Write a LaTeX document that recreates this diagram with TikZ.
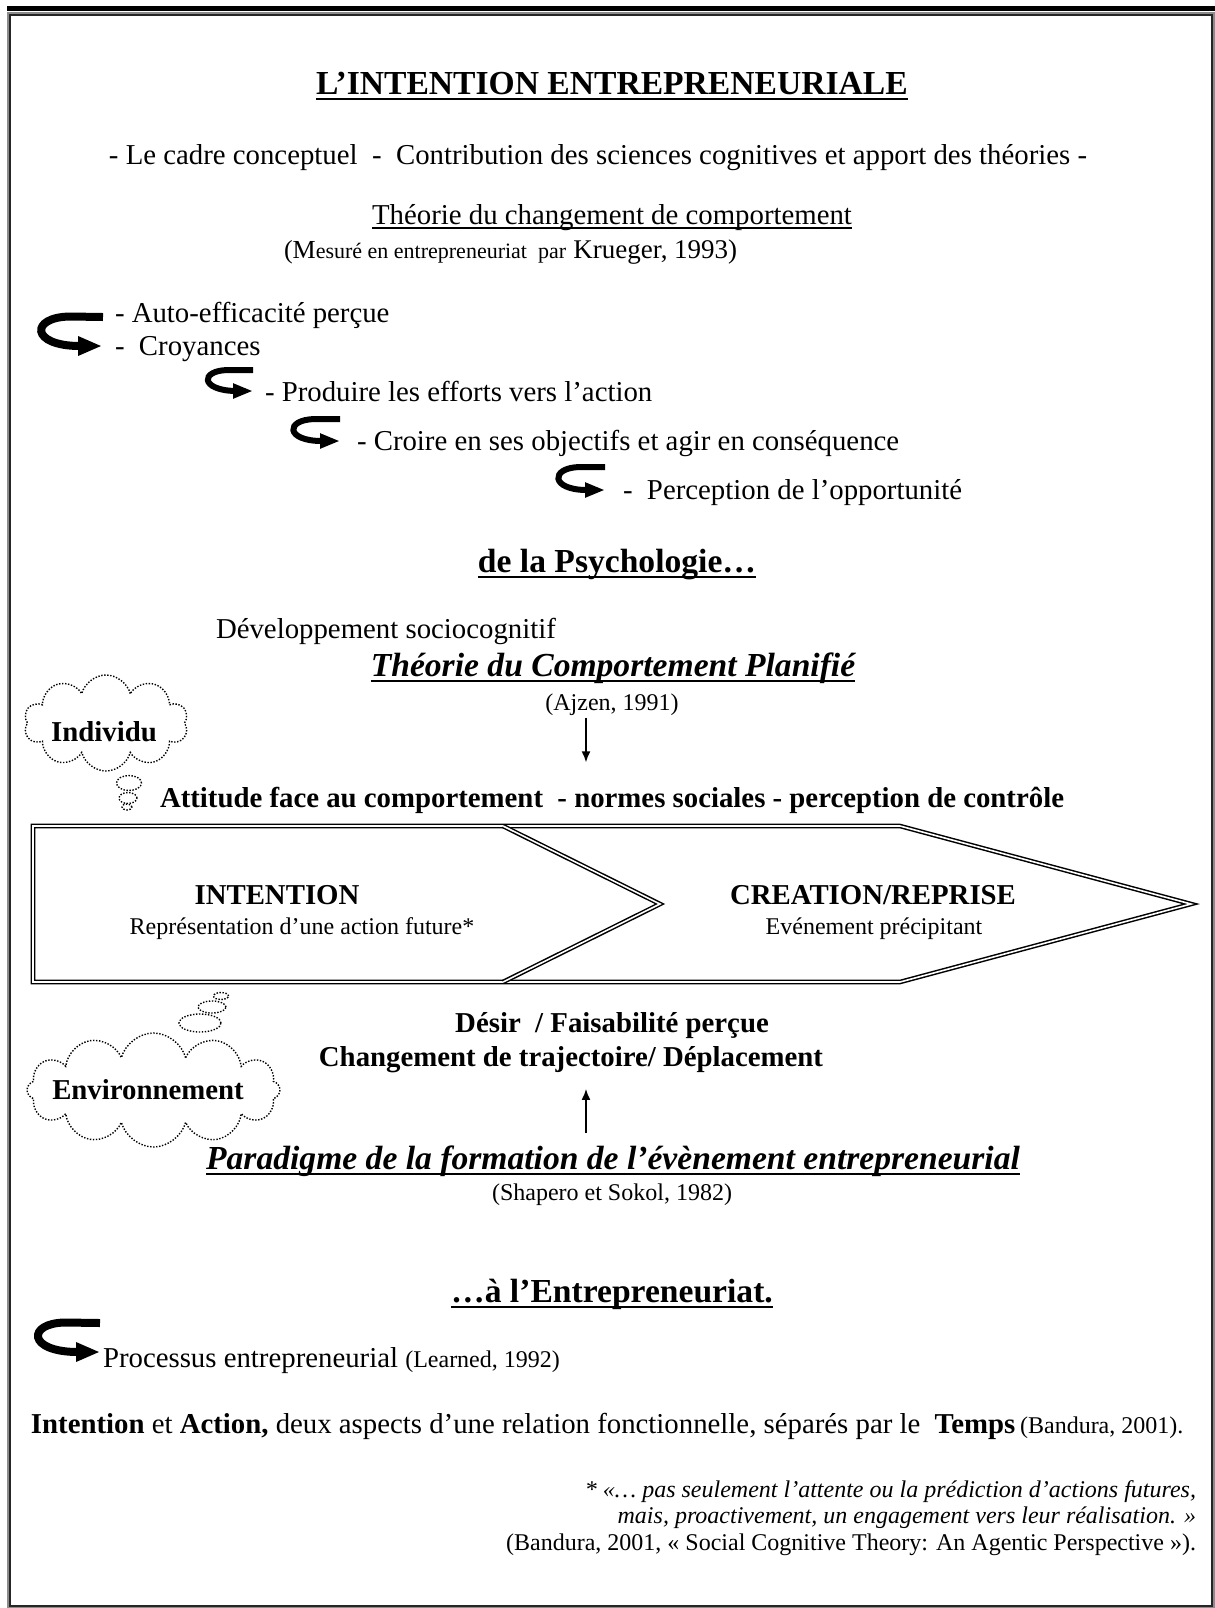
\documentclass[tikz,border=0pt]{standalone}
\usepackage{fontspec}
\setmainfont{Liberation Serif}
\usetikzlibrary{arrows.meta,shapes.symbols,shapes.geometric}
\newcommand\FontHead{\fontsize{16.8pt}{20pt}\selectfont}
\newcommand\FontBody{\fontsize{14.4pt}{17pt}\selectfont}
\newcommand\FontSmall{\fontsize{12pt}{14pt}\selectfont}
\newcommand\myul[1]{\setbox0\hbox{#1}\rlap{\rule[-0.16em]{\wd0}{0.065em}}\box0}
\begin{document}
\begin{tikzpicture}[x=0.5pt,y=-0.5pt,
  txt/.style={inner sep=0pt, outer sep=0pt, font=\FontBody},
  small/.style={txt, font=\FontSmall},
  headb/.style={txt, font=\FontHead\bfseries},
  headbi/.style={txt, font=\FontHead\bfseries\itshape},
  bodyb/.style={txt, font=\FontBody\bfseries},
  hookbig/.style={line width=4pt, line cap=butt, -{Triangle[length=12pt,width=9pt]}},
  hooksmall/.style={line width=3pt, line cap=butt, -{Triangle[length=10pt,width=7pt]}},
  cloudsty/.style={cloud, draw, line width=0.7pt, dash pattern=on 0.7pt off 0.8pt, inner sep=0pt},
  bubble/.style={ellipse, draw, line width=0.7pt, dash pattern=on 0.7pt off 0.8pt, inner sep=0pt},
  chev/.style={draw, double, line width=0.75pt, double distance=0.8pt, line join=miter},
  conn/.style={line width=0.75pt, -{Latex[length=5.5pt,width=4.5pt]}}
]
\useasboundingbox (0,0) rectangle (1215,1608);
% page frame
\fill[black] (7,6) rectangle (1215,11);
\draw[black!45, line width=0.6pt] (7,12.4) -- (1215,12.4);
\draw[black!45, line width=0.7pt] (8,13.8) rectangle (1214,1607.2);
\draw[black!85, line width=1.1pt] (10.2,15.2) rectangle (1212,1605.6);

% hooks
\coordinate (h1s) at (103,317);
\coordinate (h1e) at (102,346);
\draw[hookbig] (h1s) -- (70,316.5) .. controls (30,317) and (30,346) .. (80,346) -- (h1e);
\coordinate (h2s) at (253,370);
\coordinate (h2e) at (253,391);
\draw[hooksmall] (h2s) -- (228,370) .. controls (200,370.5) and (200,390) .. (235,391) -- (h2e);
\coordinate (h3s) at (340,419);
\coordinate (h3e) at (340,441);
\draw[hooksmall] (h3s) -- (315,419) .. controls (285,419.5) and (285,441) .. (322,441) -- (h3e);
\coordinate (h4s) at (605,467);
\coordinate (h4e) at (605,490);
\draw[hooksmall] (h4s) -- (580,467) .. controls (550,467.5) and (550,490) .. (587,490) -- (h4e);
\coordinate (h5s) at (100,1323);
\coordinate (h5e) at (100,1352);
\draw[hookbig] (h5s) -- (65,1322.5) .. controls (27,1323) and (27,1352) .. (78,1352) -- (h5e);

% clouds
\node[cloudsty, cloud puffs=10, aspect=1.75, minimum width=82pt, minimum height=48pt] (cloudI) at (106,723) {};
\node[bubble, minimum width=12.5pt, minimum height=7.5pt] (bI1) at (129,783) {};
\node[bubble, minimum width=9pt, minimum height=5.5pt] (bI2) at (128,798) {};
\node[bubble, minimum width=5pt, minimum height=3pt] (bI3) at (127,807) {};
\node[cloudsty, cloud puffs=12, aspect=2.2, minimum width=126.5pt, minimum height=57pt] (cloudE) at (153.5,1090) {};
\node[bubble, minimum width=21pt, minimum height=9pt] (bE1) at (200,1023) {};
\node[bubble, minimum width=14pt, minimum height=6pt] (bE2) at (212,1007) {};
\node[bubble, minimum width=7.5pt, minimum height=3.5pt] (bE3) at (221,996) {};

% chevrons
\draw[chev] (33,826) -- (900,826) -- (1191,904) -- (900,982) -- (33,982) -- cycle;
\draw[chev] (503,826) -- (660,904) -- (503,982);

\coordinate (ax) at (586,0);
\begin{scope}[shift={(0,6)}]
% title block
\node[headb, anchor=mid] (title) at (612,84) {\myul{L’INTENTION ENTREPRENEURIALE}};
\node[txt, anchor=mid] (subtitle) at (598,154) {- Le cadre conceptuel\ \ -\ \ Contribution des sciences cognitives et apport des théories -};
\node[txt, anchor=mid] (theorie) at (612,214) {\myul{Théorie du changement de comportement}};
\node[txt, anchor=mid west] (krueger) at (284,248) {{\fontsize{13pt}{15pt}\selectfont (M}{\fontsize{11pt}{13pt}\selectfont esuré en entrepreneuriat\ \ par} {\fontsize{13.5pt}{15pt}\selectfont Krueger, 1993)}};

% list
\node[txt, anchor=mid west] (auto) at (115,312) {- Auto-efficacité perçue};
\node[txt, anchor=mid west] (croy) at (115,345) {-\ \ Croyances};
\node[txt, anchor=mid west] (produire) at (265,391) {- Produire les efforts vers l’action};
\node[txt, anchor=mid west] (croire) at (357,440) {- Croire en ses objectifs et agir en conséquence};
\node[txt, anchor=mid west] (percep) at (623,489) {-\ \ Perception de l’opportunité};

% psychology part
\node[headb, anchor=mid] (psycho) at (617,562) {\myul{de la Psychologie…}};
\node[txt, anchor=mid west] (devel) at (216,628) {Développement sociocognitif};
\node[headbi, anchor=mid] (tcp) at (613,666) {\myul{Théorie du Comportement Planifié}};
\node[small, anchor=mid] (ajzen) at (612,700) {(Ajzen, 1991)};
\node[bodyb, anchor=mid west] (attitude) at (160,797) {Attitude face au comportement\ \ - normes sociales - perception de contrôle};
\node[bodyb, anchor=mid] (individu) at (104,731) {Individu};

\node[bodyb, anchor=mid] (inttitle) at (277,894) {INTENTION};
\node[small, anchor=mid] (intsub) at (302,924) {Représentation d’une action future*};
\node[bodyb, anchor=mid] (crtitle) at (873,894) {CREATION/REPRISE};
\node[small, anchor=mid] (crsub) at (874,924) {Evénement précipitant};

\node[bodyb, anchor=mid] (environ) at (148,1089) {Environnement};
\node[bodyb, anchor=mid] (desir) at (612,1022) {Désir\ \ / Faisabilité perçue};
\node[bodyb, anchor=mid] (chang) at (571,1056) {Changement de trajectoire/ Déplacement};
\node[headbi, anchor=mid] (parad) at (613,1159) {\myul{Paradigme de la formation de l’évènement entrepreneurial}};
\node[small, anchor=mid] (shapero) at (612,1190) {(Shapero et Sokol, 1982)};

% entrepreneurship part
\node[headb, anchor=mid] (entre) at (612,1292) {\myul{…à l’Entrepreneuriat.}};
\node[txt, anchor=mid west] (processus) at (103,1357) {Processus entrepreneurial {\FontSmall (Learned, 1992)}};
\node[txt, anchor=mid west] (relation) at (31,1423) {\textbf{Intention} et \textbf{Action,} deux aspects d’une relation fonctionnelle, séparés par le\ \ \textbf{Temps}\,{\FontSmall (Bandura, 2001).}};

% footnote
\node[small, font=\FontSmall\itshape, anchor=mid east] (fn1) at (1196,1487) {* «… pas seulement l’attente ou la prédiction d’actions futures,};
\node[small, font=\FontSmall\itshape, anchor=mid east] (fn2) at (1196,1513) {mais, proactivement, un engagement vers leur réalisation. »};
\node[small, anchor=mid east] (fn3) at (1196,1540) {(Bandura, 2001, « Social Cognitive Theory: An Agentic Perspective »).};
\end{scope}

\draw[conn, shorten <=1pt, shorten >=12.5pt] (ajzen.south -| ax) -- (attitude.north -| ax);
\draw[conn, shorten <=6.5pt, shorten >=8pt] (parad.north -| ax) -- (chang.south -| ax);
\end{tikzpicture}
\end{document}
